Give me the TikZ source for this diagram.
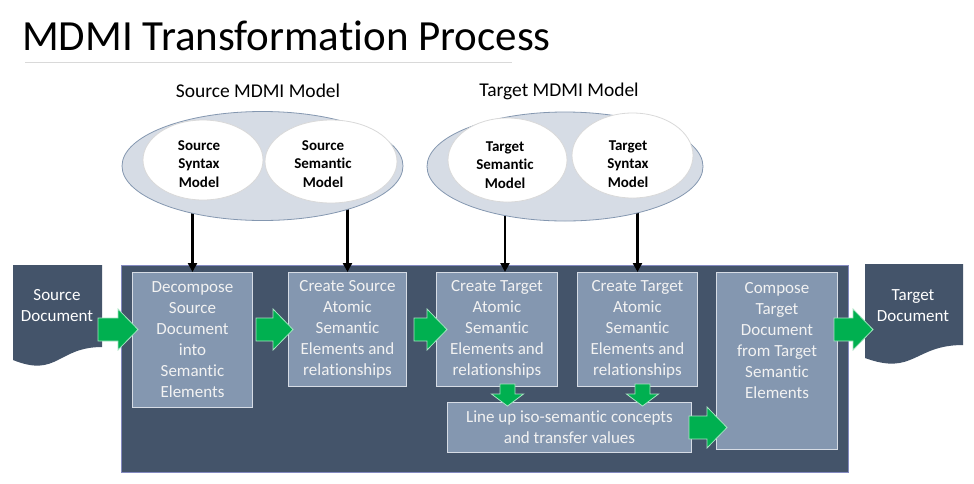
\documentclass[tikz,border=0pt]{standalone}
\usepackage{fontspec}
\setmainfont[Ligatures=NoCommon]{Carlito}
\usetikzlibrary{shapes.geometric,arrows.meta,backgrounds,calc}
\definecolor{slate}{HTML}{44546A}
\definecolor{boxfill}{HTML}{8497B0}
\definecolor{ellfill}{HTML}{D6DCE5}
\definecolor{gfill}{HTML}{00B050}
\definecolor{boxtxt}{HTML}{F2F2F2}
\definecolor{rulegray}{HTML}{D9D9D9}
\newcommand\harr[2]{\fill[garrow] ([yshift=11.5pt]#1) -- ([xshift=-20pt,yshift=11.5pt]#2) -- ([xshift=-20pt,yshift=20.5pt]#2) -- (#2) -- ([xshift=-20pt,yshift=-20.5pt]#2) -- ([xshift=-20pt,yshift=-11.5pt]#2) -- ([yshift=-11.5pt]#1) -- cycle;}
\newcommand\varr[2]{\fill[garrow] ([xshift=-7.5pt]#1) -- ([xshift=-7.5pt,yshift=12pt]#2) -- ([xshift=-16pt,yshift=12pt]#2) -- (#2) -- ([xshift=16pt,yshift=12pt]#2) -- ([xshift=7.5pt,yshift=12pt]#2) -- ([xshift=7.5pt]#1) -- cycle;}
\begin{document}
\begin{tikzpicture}[x=1pt,y=-1pt,
  procbox/.style={draw=ellfill, line width=1pt, fill=boxfill, anchor=north west, inner sep=0pt,
    text=boxtxt, align=center, font=\fontsize{17}{21}\selectfont},
  boxtext/.style={text=boxtxt, align=center, inner sep=0pt, font=\fontsize{17}{21}\selectfont},
  doctext/.style={text=white, align=center, inner sep=0pt, font=\fontsize{17}{21}\selectfont},
  outerell/.style={ellipse, draw=boxfill, line width=0.8pt, fill=ellfill, inner sep=0pt},
  innerell/.style={ellipse, draw=rulegray, line width=0.8pt, fill=white, inner sep=0pt},
  elltext/.style={align=center, inner sep=0pt, font=\bfseries\fontsize{15}{18.5}\selectfont},
  modellabel/.style={inner sep=0pt, font=\fontsize{19.5}{22}\selectfont},
  garrow/.style={fill=gfill, draw=white!65!gfill, line width=0.8pt},
  blkarrow/.style={draw=black, line width=2.3pt, -{Triangle[width=9pt,length=9pt]}},
  container/.style={fill=slate, draw=slate!70!blue!60!white, line width=0.8pt, anchor=north west, inner sep=0pt}
]
\useasboundingbox (0,0) rectangle (974,483);

% title
\node[anchor=base west, inner sep=0pt, font=\fontsize{43}{50}\selectfont] (title) at (22,50) {MDMI Transformation Process};
\draw[rulegray, line width=1pt] (25,62) -- (512,62);

% model labels
\node[modellabel] (srclabel) at (258,91) {Source MDMI Model};
\node[modellabel] (tgtlabel) at (559,91) {Target MDMI Model};

% model ellipses
\node[outerell, minimum width=281pt, minimum height=109pt] (srcmodel) at (262.5,166) {};
\node[innerell, minimum width=120pt, minimum height=80pt] (ssyn) at (203,160) {};
\node[innerell, minimum width=132pt, minimum height=83pt] (ssem) at (331,161.5) {};
\node[elltext] (ssyntext) at (199,164) {Source\\Syntax\\Model};
\node[elltext] (ssemtext) at (323,164) {Source\\Semantic\\Model};

\node[outerell, minimum width=276pt, minimum height=109pt] (tgtmodel) at (565,166.5) {};
\node[innerell, minimum width=119pt, minimum height=84pt] (tsem) at (507.5,160) {};
\node[innerell, minimum width=121pt, minimum height=85pt] (tsyn) at (632.5,155.5) {};
\node[elltext] (tsemtext) at (505,165) {Target\\Semantic\\Model};
\node[elltext] (tsyntext) at (628,164) {Target\\Syntax\\Model};

% process boxes
\node[procbox, minimum width=120pt, minimum height=135pt] (box1) at (132,272) {Decompose\\Source\\Document\\into\\Semantic\\Elements};
\node[procbox, minimum width=118pt, minimum height=114pt] (box2) at (288,272) {Create Source\\Atomic\\Semantic\\Elements and\\relationships};
\node[procbox, minimum width=121pt, minimum height=114pt] (box3) at (436,272) {Create Target\\Atomic\\Semantic\\Elements and\\relationships};
\node[procbox, minimum width=120pt, minimum height=114pt] (box4) at (577,272) {Create Target\\Atomic\\Semantic\\Elements and\\relationships};
\node[procbox, minimum width=121pt, minimum height=177pt] (box5) at (716,272) {};
\node[boxtext, anchor=north] (box5text) at ([yshift=-10pt]box5.north) {Compose\\Target\\Document\\from Target\\Semantic\\Elements};
\node[procbox, minimum width=244pt, minimum height=50pt] (box6) at (447,402) {Line up iso-semantic concepts\\and transfer values};

% background: container and model arrows
\begin{scope}[on background layer]
\fill[white] (0,0) rectangle (974,483);
\node[container, minimum width=727pt, minimum height=207pt] (proc) at (121,265) {};
\draw[blkarrow] (box1.north |- srcmodel.center) -- (box1.north);
\draw[blkarrow] (box2.north |- srcmodel.center) -- (box2.north);
\draw[blkarrow] ([xshift=8pt]box3.north |- tgtmodel.center) -- ([xshift=8pt]box3.north);
\draw[blkarrow] (box4.north |- tgtmodel.center) -- (box4.north);
\end{scope}

% documents
\fill[slate] (13,265) -- (102,265) -- (102,347) .. controls (57.5,347) and (57.5,378) .. (13,360) -- cycle;
\node[doctext] (srcdoc) at (57,306) {Source\\Document};
\fill[slate] (865,264) -- (963,264) -- (963,345) .. controls (914,345) and (914,376) .. (865,358) -- cycle;
\node[doctext] (tgtdoc) at (913,306) {Target\\Document};
\coordinate (tgtdocwest) at (865,306);

% green block arrows
\coordinate (As) at ([xshift=-34pt]box1.west |- box2.west);
\coordinate (At) at ([xshift=6pt]box1.west |- box2.west);
\harr{As}{At}
\coordinate (Bs) at ([xshift=3pt]box1.east |- box2.west);
\coordinate (Bt) at ([xshift=5pt]box2.west);
\harr{Bs}{Bt}
\coordinate (Cs) at ([xshift=7pt]box2.east);
\coordinate (Ct) at ([xshift=11pt]box3.west);
\harr{Cs}{Ct}
\coordinate (Ds) at ([xshift=-4pt]box5.east |- box4.east);
\coordinate (Dt) at ([xshift=8pt]tgtdocwest |- box4.east);
\harr{Ds}{Dt}
\coordinate (Es) at ([xshift=-3pt]box6.east);
\coordinate (Et) at ([xshift=11pt]box5.west |- box6.east);
\harr{Es}{Et}
\coordinate (Fs) at ([xshift=10.5pt,yshift=3pt]box3.south);
\coordinate (Ft) at ([xshift=10.5pt,yshift=-4pt]box3.south |- box6.north);
\varr{Fs}{Ft}
\coordinate (Gs) at ([xshift=5pt,yshift=3pt]box4.south);
\coordinate (Gt) at ([xshift=5pt,yshift=-4pt]box4.south |- box6.north);
\varr{Gs}{Gt}
\end{tikzpicture}
\end{document}
